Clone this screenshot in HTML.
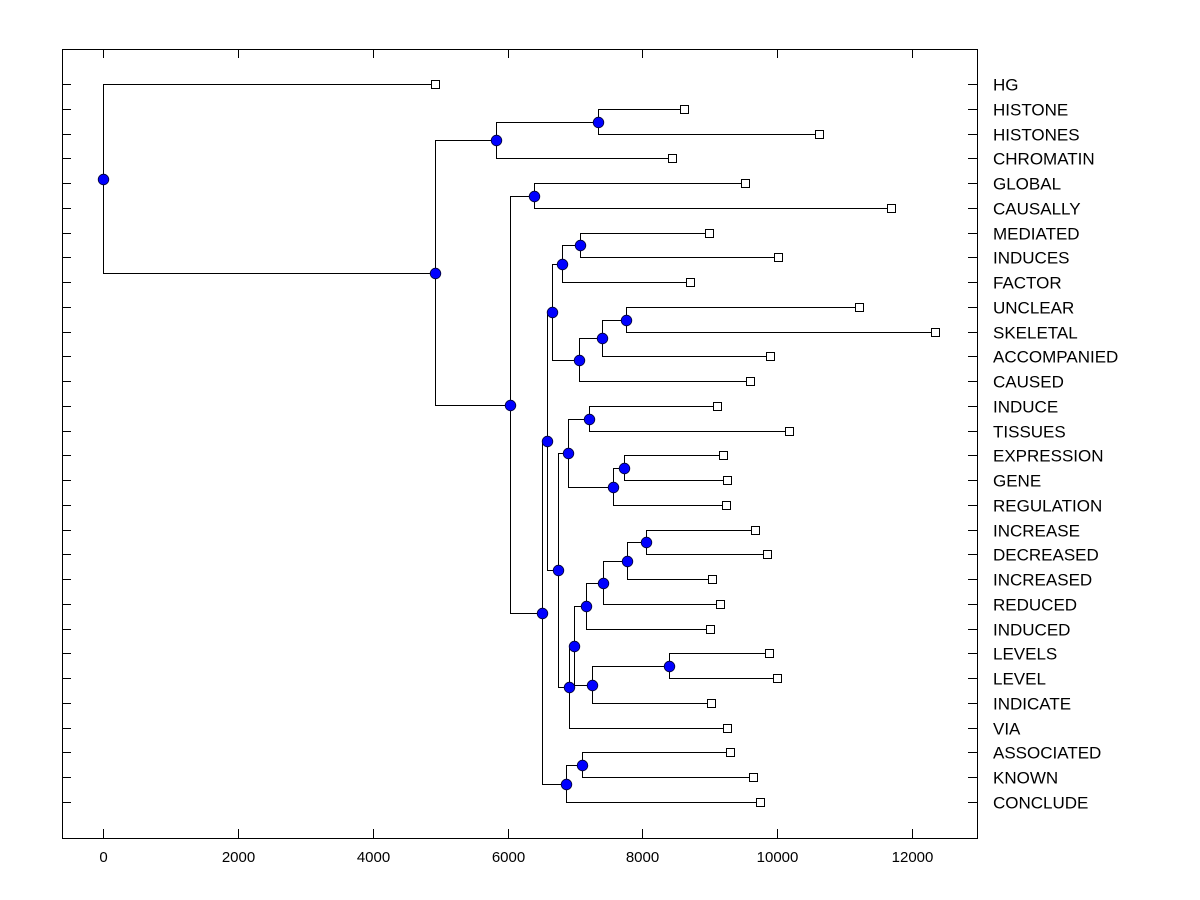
<!DOCTYPE html>
<html><head><meta charset="utf-8"><style>
body{margin:0;background:#fff;}
svg{display:block;font-family:"Liberation Sans",Arial,sans-serif;}
</style></head><body>
<svg id="chart" width="1200" height="900" viewBox="0 0 1200 900">
<rect x="62.5" y="49.5" width="915" height="789" fill="none" stroke="#000" stroke-width="1"/>
<g id="axes"></g>
<g id="links"></g>
<g id="marks"></g>
</svg>
<script>
const leafNames=["HG","HISTONE","HISTONES","CHROMATIN","GLOBAL","CAUSALLY","MEDIATED","INDUCES","FACTOR","UNCLEAR","SKELETAL","ACCOMPANIED","CAUSED","INDUCE","TISSUES","EXPRESSION","GENE","REGULATION","INCREASE","DECREASED","INCREASED","REDUCED","INDUCED","LEVELS","LEVEL","INDICATE","VIA","ASSOCIATED","KNOWN","CONCLUDE"];
const leafHeights=[4924,8618,10620,8440,9522,11688,8988,10012,8707,11213,12341,9893,9597,9107,10175,9196,9255,9240,9671,9849,9033,9152,9003,9878,9997,9018,9255,9300,9641,9745];
const mergeLeft=[1,30,4,6,33,9,35,36,34,13,15,40,39,18,43,44,45,23,47,46,49,42,38,27,53,52,32,31,0];
const mergeRight=[2,3,5,7,8,10,11,12,37,14,16,17,41,19,20,21,22,24,25,48,26,50,51,28,29,54,55,56,57];
const mergeHeights=[7342,5829,6393,7075,6808,7757,7401,7060,6660,7209,7728,7564,6897,8054,7772,7416,7164,8395,7253,6986,6912,6749,6585,7105,6867,6511,6037,4920,0];
const xTicks=[0,2000,4000,6000,8000,10000,12000];

const NS="http://www.w3.org/2000/svg";
const X=v=>Math.round(103+v*(809/12000))+0.5;
const Y=i=>Math.round(84+i*((802-84)/29))+0.5;
function mk(tag,attrs,parent){const e=document.createElementNS(NS,tag);for(const k in attrs)e.setAttribute(k,attrs[k]);parent.appendChild(e);return e;}
const axes=document.getElementById('axes'),links=document.getElementById('links'),marks=document.getElementById('marks');

xTicks.forEach(t=>{
  const x=X(t);
  let e=mk('line',{x1:x,x2:x,y1:829,y2:838,stroke:'#000'},axes);
  
  
  e=mk('line',{x1:x,x2:x,y1:49,y2:58,stroke:'#000'},axes);
  
  
  e=mk('text',{x:x,y:862,'text-anchor':'middle','font-size':'15'},axes);
  e.textContent=t;
  
  
});
leafNames.forEach((n,i)=>{
  const y=Y(i);
  let e=mk('line',{x1:62,x2:71,y1:y,y2:y,stroke:'#000'},axes);
  
  
  e=mk('line',{x1:968,x2:977,y1:y,y2:y,stroke:'#000'},axes);
  
  
  e=mk('text',{x:993,y:y+6,'font-size':'17'},axes);
  e.textContent=n;
  
  
});

const nL=leafNames.length;
const pos={};
leafNames.forEach((n,i)=>{pos[i]={x:X(leafHeights[i]),y:Y(i)};});
mergeHeights.forEach((h,k)=>{
  const a=pos[mergeLeft[k]],b=pos[mergeRight[k]];
  const x=X(h),y=Math.round((a.y+b.y)/2-0.5)+0.5;
  pos[nL+k]={x,y};
  const p=mk('path',{d:`M${a.x},${a.y}H${x}V${b.y}H${b.x}`,fill:'none',stroke:'#000','stroke-width':'1'},links);
  
  
});
leafNames.forEach((n,i)=>{
  const r=mk('rect',{x:pos[i].x-4,y:pos[i].y-4,width:8,height:8,fill:'#fff',stroke:'#000'},marks);
  
  
});
mergeHeights.forEach((h,k)=>{
  const p=pos[nL+k];
  const c=mk('circle',{cx:p.x,cy:p.y,r:5.3,fill:'#0000ff',stroke:'#000033','stroke-width':'0.8'},marks);
  
  
});
</script>
</body></html>
